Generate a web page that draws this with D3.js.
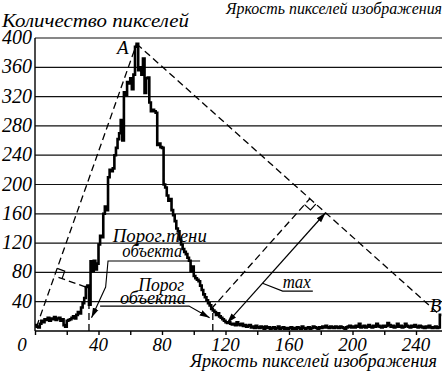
<!DOCTYPE html>
<html>
<head>
<meta charset="utf-8">
<script src="https://cdn.jsdelivr.net/npm/d3@7"></script>
<style>
  body { margin: 0; background: #fff; }
  svg { display: block; }
  text { font-family: "Liberation Serif", "DejaVu Serif", serif; font-style: italic; fill: #000; }
</style>
</head>
<body>
<div id="chart"></div>
<script>
/* Histogram of pixel brightness with triangle threshold construction */

// pixel count for each brightness level 0..255
const counts = [
    8, 6, 5, 10, 14, 12, 16, 15, 18, 14,
    17, 16, 19, 15, 17, 18, 14, 16, 8, 6,
    14, 15, 16, 18, 20, 17, 22, 26, 24, 32,
    38, 45, 60, 62, 36, 95, 82, 96, 84, 92,
    118, 130, 128, 160, 170, 165, 210, 220, 218, 222,
    240, 250, 262, 270, 288, 260, 326, 322, 340, 338,
    345, 330, 350, 388, 392, 356, 360, 350, 372, 325,
    345, 346, 312, 300, 302, 300, 298, 254, 256, 251,
    250, 200, 196, 185, 178, 180, 165, 158, 150, 140,
    136, 125, 118, 112, 108, 105, 100, 96, 82, 88,
    75, 72, 70, 68, 62, 56, 50, 46, 42, 38,
    35, 30, 28, 26, 22, 24, 20, 18, 16, 14,
    12, 11, 12, 10, 9, 10, 8, 12, 9, 8,
    10, 7, 8, 6, 7, 8, 5, 6, 4, 7,
    5, 4, 6, 5, 3, 6, 4, 5, 3, 4,
    5, 3, 4, 6, 3, 4, 5, 3, 4, 3,
    4, 5, 3, 4, 3, 5, 4, 3, 6, 4,
    3, 4, 5, 3, 4, 6, 5, 4, 3, 5,
    4, 6, 5, 7, 5, 4, 6, 5, 4, 6,
    5, 4, 6, 5, 4, 3, 5, 6, 7, 5,
    6, 5, 7, 6, 10, 5, 6, 7, 5, 6,
    8, 6, 5, 7, 6, 10, 7, 6, 5, 7,
    6, 7, 11, 8, 6, 7, 5, 6, 10, 6,
    7, 5, 6, 10, 7, 6, 5, 7, 6, 8,
    6, 5, 7, 6, 5, 4, 6, 5, 7, 5,
    4, 5, 6, 4, 5, 22
];

const yTicks = [40, 80, 120, 160, 200, 240, 280, 320, 360, 400];
const xTickMarks = [0, 20, 40, 60, 80, 100, 120, 140, 160, 180, 200, 220, 240];
const xLabels = [0, 40, 80, 120, 160, 200, 240];

// key bins of the construction
const startBin = 1, peakBin = 64, endBin = 255;
const shadowBin = 32, shadowThr = 34;   // shadow threshold
const objBin = 111, objThr = 112;       // object threshold
const maxBin = 121;                      // point of maximum distance

const width = 446, height = 373,
    margin = ({ top: 38, right: 5, bottom: 42, left: 35 });

let svg = d3.select("#chart")
    .append("svg")
    .attr("width", width)
    .attr("height", height);

let x = d3.scaleLinear()
    .domain([0, 256])
    .range([margin.left, 441.4]);

let y = d3.scaleLinear()
    .domain([0, 400])
    .range([height - margin.bottom, margin.top]);

// arrow heads
let defs = svg.append("defs");
defs.append("marker")
    .attr("id", "arr")
    .attr("markerUnits", "userSpaceOnUse")
    .attr("viewBox", "0 -4 10 8")
    .attr("refX", 10).attr("refY", 0)
    .attr("markerWidth", 10).attr("markerHeight", 8)
    .attr("orient", "auto-start-reverse")
    .append("path")
    .attr("d", "M0,-3L10,0L0,3Z")
    .attr("fill", "#000");

// horizontal grid lines
svg.append("g")
    .selectAll("line")
    .data(yTicks)
    .join("line")
    .attr("x1", margin.left)
    .attr("x2", width - 4)
    .attr("y1", d => y(d))
    .attr("y2", d => y(d))
    .attr("stroke", "#111")
    .attr("stroke-width", 1.2);

// y axis line and labels
svg.append("line")
    .attr("x1", x(0)).attr("x2", x(0))
    .attr("y1", y(400)).attr("y2", y(0))
    .attr("stroke", "#000")
    .attr("stroke-width", 1.4);

svg.append("g")
    .selectAll("text")
    .data(yTicks)
    .join("text")
    .attr("x", margin.left - 3)
    .attr("y", d => y(d) + 6)
    .attr("text-anchor", "end")
    .attr("font-size", 20)
    .text(d => d);

// x axis with tick marks every 20
let xAxis = svg.append("g")
    .attr("transform", `translate(0,${y(0)})`)
    .call(d3.axisBottom(x)
        .tickValues(xTickMarks)
        .tickSize(4)
        .tickSizeOuter(0)
        .tickFormat(""));
xAxis.select(".domain")
    .attr("d", `M${x(0)},0H${width - 4}`)
    .attr("stroke-width", 1.4);
xAxis.selectAll(".tick line").attr("stroke-width", 1.4);

svg.append("g")
    .selectAll("text")
    .data(xLabels)
    .join("text")
    .attr("x", d => d === 0 ? x(d) - 13 : x(d))
    .attr("y", y(0) + 20)
    .attr("text-anchor", "middle")
    .attr("font-size", 19)
    .text(d => d);

// histogram as a step line
let pts = counts.map((c, i) => [i, c]);
pts.push([256, counts[255]]);

let line = d3.line()
    .x(d => x(d[0]))
    .y(d => y(d[1]))
    .curve(d3.curveStepAfter);

svg.append("path")
    .datum(pts)
    .attr("d", line)
    .attr("fill", "none")
    .attr("stroke", "#000")
    .attr("stroke-width", 2.6);

// helper: pixel position of a bin
const pos = b => [x(b), y(counts[b])];

// foot of perpendicular from p onto line a-b
function foot(p, a, b) {
    let dx = b[0] - a[0], dy = b[1] - a[1];
    let t = ((p[0] - a[0]) * dx + (p[1] - a[1]) * dy) / (dx * dx + dy * dy);
    return [a[0] + t * dx, a[1] + t * dy];
}

const O = pos(startBin), A = pos(peakBin), B = pos(endBin);
const P1 = pos(shadowBin), P2 = pos(objBin), P3 = pos(maxBin);
const F1 = foot(P1, O, A), F2 = foot(P2, A, B), F3 = foot(P3, A, B);

const dashed = (a, b) => svg.append("line")
    .attr("x1", a[0]).attr("y1", a[1])
    .attr("x2", b[0]).attr("y2", b[1])
    .attr("stroke", "#000")
    .attr("stroke-width", 1.3)
    .attr("stroke-dasharray", "7,4");

// triangle sides
dashed(O, A);
dashed(A, B);
// perpendiculars
dashed(P1, F1);
dashed(P2, F2);
// threshold verticals
dashed([x(shadowThr), y(0)], [x(shadowThr), y(counts[shadowThr]) - 4]);
dashed([x(objThr), y(0)], [x(objThr), y(counts[objThr])]);

// right angle squares
function rightAngle(f, toP, along) {
    let n = v => { let l = Math.hypot(v[0], v[1]); return [v[0] / l, v[1] / l]; };
    let v = n([toP[0] - f[0], toP[1] - f[1]]);
    let u = n([along[0] - f[0], along[1] - f[1]]);
    let s = 8;
    let p1 = [f[0] + s * v[0], f[1] + s * v[1]];
    let p2 = [p1[0] + s * u[0], p1[1] + s * u[1]];
    let p3 = [f[0] + s * u[0], f[1] + s * u[1]];
    svg.append("path")
        .attr("d", `M${p1}L${p2}L${p3}`)
        .attr("fill", "none")
        .attr("stroke", "#000")
        .attr("stroke-width", 1.2);
}
rightAngle(F1, P1, A);
rightAngle(F2, P2, B);

// max distance line with two arrow heads
svg.append("line")
    .attr("x1", P3[0]).attr("y1", P3[1])
    .attr("x2", F3[0]).attr("y2", F3[1])
    .attr("stroke", "#000")
    .attr("stroke-width", 1.2)
    .attr("marker-start", "url(#arr)")
    .attr("marker-end", "url(#arr)");

// point labels
svg.append("text")
    .attr("x", A[0] - 8).attr("y", A[1] + 10)
    .attr("text-anchor", "end")
    .attr("font-size", 19)
    .text("A");
svg.append("text")
    .attr("x", B[0] - 10).attr("y", B[1] - 3)
    .attr("font-size", 19)
    .text("B");

// annotation text helper (positions in data units)
const label = (t, bx, v, size, len) => {
    let el = svg.append("text")
        .attr("x", x(bx)).attr("y", y(v))
        .attr("font-size", size)
        .text(t);
    if (len) el.attr("textLength", len).attr("lengthAdjust", "spacingAndGlyphs");
    return el;
};
const thin = (d, marker) => {
    let p = svg.append("path")
        .attr("d", d3.line().x(d => x(d[0])).y(d => y(d[1]))(d))
        .attr("fill", "none")
        .attr("stroke", "#000")
        .attr("stroke-width", 1.1);
    if (marker) p.attr("marker-end", "url(#arr)");
};

// shadow threshold label
label("Порог.тени", 49, 122, 19, 94);
label("объекта", 55, 100.5, 19, 60);
thin([[104, 95.5], [46, 95.5], [44.5, 60], [35.6, 18]], true);

// object threshold label
label("Порог", 65, 54.5, 19, 46);
label("объекта", 53.5, 36.5, 19, 66);
thin([[41, 34], [97, 34], [110, 18]], true);

// max label
label("max", 156, 59, 19, 28);
let lp = [P3[0] + 0.36 * (F3[0] - P3[0]), P3[1] + 0.36 * (F3[1] - P3[1])];
svg.append("path")
    .attr("d", `M${lp}L${x(156)},${y(54.5)}L${x(175)},${y(54.5)}`)
    .attr("fill", "none")
    .attr("stroke", "#000")
    .attr("stroke-width", 1.1);

// axis titles
svg.append("text")
    .attr("x", 2).attr("y", 27)
    .attr("font-size", 18)
    .attr("textLength", 187).attr("lengthAdjust", "spacingAndGlyphs")
    .text("Количество пикселей");
svg.append("text")
    .attr("x", 226).attr("y", 14)
    .attr("font-size", 17)
    .attr("textLength", 216).attr("lengthAdjust", "spacingAndGlyphs")
    .text("Яркость пикселей изображения");
svg.append("text")
    .attr("x", 190).attr("y", 367)
    .attr("font-size", 19)
    .attr("textLength", 247).attr("lengthAdjust", "spacingAndGlyphs")
    .text("Яркость пикселей изображения");
</script>
</body>
</html>
